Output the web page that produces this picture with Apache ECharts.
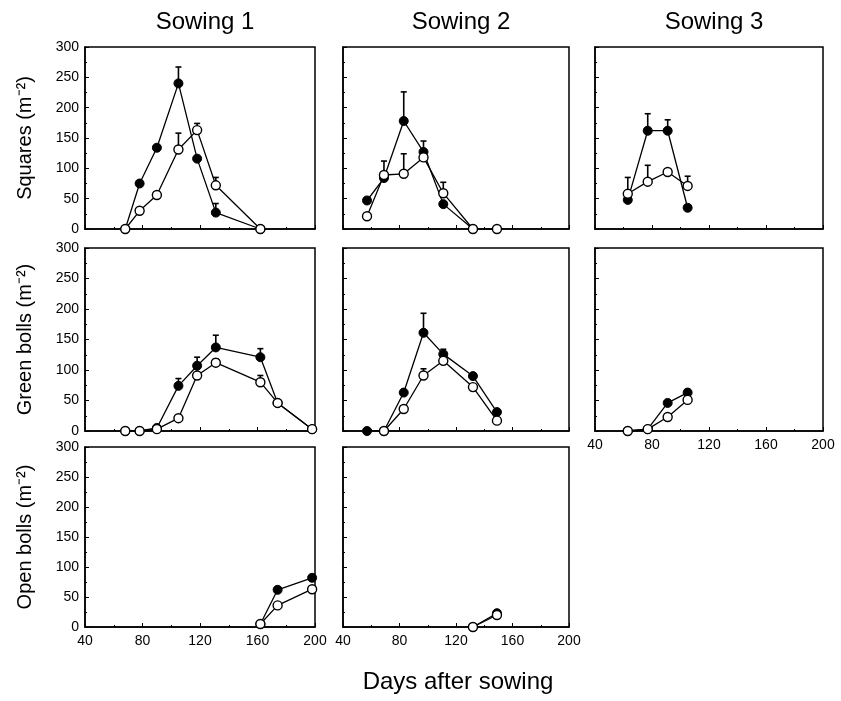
<!DOCTYPE html>
<html>
<head>
<meta charset="utf-8">
<script src="https://cdn.jsdelivr.net/npm/echarts@6/dist/echarts.min.js"></script>
<style>
  html, body { margin: 0; padding: 0; background: #fff; }
  #main { width: 841px; height: 701px; }
</style>
</head>
<body>
<div id="main"></div>
<script>
// sampling days (days after sowing)
var s1Days = [68, 78, 90, 105, 118, 131, 162, 174, 198];
var s2Days = [57, 69, 83, 97, 111, 132, 149];
var s3Days = [63, 77, 91, 105];
var ob1Days = [162, 174, 198];
var ob2Days = [132, 149];

// squares (m-2)
var sq1Filled = [0, 75, 134, 240, 116, 27, 0];
var sq1Open = [0, 30, 56, 131, 163, 72, 0];
var sq1FilledErr = [null, null, null, 27, null, 15, null];
var sq1OpenErr = [null, null, null, 27, 11, 13, null];

var sq2Filled = [47, 84, 178, 127, 41, 0, null];
var sq2Open = [21, 89, 91, 118, 59, 0, 0];
var sq2FilledErr = [null, null, 48, 18, null, null, null];
var sq2OpenErr = [null, 23, 33, null, 18, null, null];

var sq3Filled = [48, 162, 162, 35];
var sq3Open = [58, 78, 94, 71];
var sq3FilledErr = [null, 28, 18, null];
var sq3OpenErr = [27, 27, null, 16];

// green bolls (m-2)
var gb1Filled = [0, 0, 5, 74, 107, 137, 121, 46, 3];
var gb1Open = [0, 0, 3, 21, 91, 112, 80, 46, 3];
var gb1FilledErr = [null, null, null, 12, 14, 20, 14, null, null];
var gb1OpenErr = [null, null, null, null, null, 6, 11, null, null];

var gb2Filled = [0, 0, 63, 161, 126, 90, 31];
var gb2Open = [null, 0, 36, 91, 115, 72, 17];
var gb2FilledErr = [null, null, null, 32, 8, null, null];
var gb2OpenErr = [null, null, null, 11, null, null, null];

var gb3Filled = [0, 3, 46, 63];
var gb3Open = [0, 3, 23, 51];
var gb3FilledErr = [null, null, null, 5];
var gb3OpenErr = [null, null, null, null];

// open bolls (m-2)
var ob1Filled = [5, 62, 82];
var ob1Open = [5, 36, 63];
var ob2Filled = [0, 23];
var ob2Open = [0, 20];

var xTicks = [40, 80, 120, 160, 200];
var yTicks = [0, 50, 100, 150, 200, 250, 300];
var sowingTitles = ['Sowing 1', 'Sowing 2', 'Sowing 3'];
var rowNames = ['Squares (m\u207B\u00B2)', 'Green bolls (m\u207B\u00B2)', 'Open bolls (m\u207B\u00B2)'];

var panels = [
  { col: 0, row: 0, days: s1Days, f: sq1Filled, o: sq1Open, fe: sq1FilledErr, oe: sq1OpenErr },
  { col: 1, row: 0, days: s2Days, f: sq2Filled, o: sq2Open, fe: sq2FilledErr, oe: sq2OpenErr },
  { col: 2, row: 0, days: s3Days, f: sq3Filled, o: sq3Open, fe: sq3FilledErr, oe: sq3OpenErr },
  { col: 0, row: 1, days: s1Days, f: gb1Filled, o: gb1Open, fe: gb1FilledErr, oe: gb1OpenErr },
  { col: 1, row: 1, days: s2Days, f: gb2Filled, o: gb2Open, fe: gb2FilledErr, oe: gb2OpenErr },
  { col: 2, row: 1, days: s3Days, f: gb3Filled, o: gb3Open, fe: gb3FilledErr, oe: gb3OpenErr, xLabels: true },
  { col: 0, row: 2, days: ob1Days, f: ob1Filled, o: ob1Open, xLabels: true },
  { col: 1, row: 2, days: ob2Days, f: ob2Filled, o: ob2Open, xLabels: true }
];

var colLeft = [85, 343, 595];
var colWidth = [230, 226, 228];
var rowTop = [47, 248, 447];
var rowHeight = [182, 183, 180];
var FONT = 'Liberation Sans, Arial, Helvetica, sans-serif';

function pts(days, vals) {
  var out = [];
  if (!vals) return out;
  for (var i = 0; i < vals.length; i++) {
    if (vals[i] != null) out.push([days[i], vals[i]]);
  }
  return out;
}

function errPts(days, vals, errs) {
  var out = [];
  if (!errs) return out;
  for (var i = 0; i < errs.length; i++) {
    if (errs[i] != null && vals[i] != null) out.push([days[i], vals[i], errs[i]]);
  }
  return out;
}

function renderErr(params, api) {
  var x = api.value(0), y = api.value(1), e = api.value(2);
  var p0 = api.coord([x, y]);
  var p1 = api.coord([x, y + e]);
  var st = { stroke: '#000', lineWidth: 1.6 };
  return {
    type: 'group',
    children: [
      { type: 'line', shape: { x1: p0[0], y1: p0[1], x2: p1[0], y2: p1[1] }, style: st },
      { type: 'line', shape: { x1: p1[0] - 3, y1: p1[1], x2: p1[0] + 3, y2: p1[1] }, style: st }
    ]
  };
}

var grids = [], xAxes = [], yAxes = [], series = [];
panels.forEach(function (p, i) {
  grids.push({
    left: colLeft[p.col], top: rowTop[p.row],
    width: colWidth[p.col], height: rowHeight[p.row],
    show: true, borderColor: '#000', borderWidth: 1.5, backgroundColor: 'transparent'
  });
  xAxes.push({
    gridIndex: i, type: 'value', min: xTicks[0], max: xTicks[xTicks.length - 1], interval: 40,
    axisLine: { show: true, lineStyle: { color: '#000', width: 1.5 } },
    axisTick: { show: true, inside: true, length: 4, lineStyle: { color: '#000' } },
    minorTick: { show: true, splitNumber: 2, length: 2, lineStyle: { color: '#000' } },
    splitLine: { show: false },
    axisLabel: {
      show: !!p.xLabels, color: '#000', fontSize: 14, fontFamily: FONT, margin: 7,
      showMinLabel: true, showMaxLabel: true
    }
  });
  yAxes.push({
    gridIndex: i, type: 'value', min: yTicks[0], max: yTicks[yTicks.length - 1], interval: 50,
    axisLine: { show: true, lineStyle: { color: '#000', width: 1.5 } },
    axisTick: { show: true, inside: true, length: 4, lineStyle: { color: '#000' } },
    minorTick: { show: true, splitNumber: 2, length: 2, lineStyle: { color: '#000' } },
    splitLine: { show: false },
    axisLabel: { show: p.col === 0, color: '#000', fontSize: 14, fontFamily: FONT, margin: 6 },
    name: p.col === 0 ? rowNames[p.row] : '',
    nameLocation: 'middle', nameGap: 50, nameRotate: 90,
    nameTextStyle: { color: '#000', fontSize: 20, fontFamily: FONT }
  });

  series.push({
    type: 'custom', xAxisIndex: i, yAxisIndex: i, z: 1,
    renderItem: renderErr, data: errPts(p.days, p.f, p.fe)
  });
  series.push({
    type: 'custom', xAxisIndex: i, yAxisIndex: i, z: 1,
    renderItem: renderErr, data: errPts(p.days, p.o, p.oe)
  });
  series.push({
    type: 'line', xAxisIndex: i, yAxisIndex: i, z: 2,
    data: pts(p.days, p.f), symbol: 'circle', symbolSize: 9,
    lineStyle: { color: '#000', width: 1.3 },
    itemStyle: { color: '#000', borderColor: '#000', borderWidth: 1 }
  });
  series.push({
    type: 'line', xAxisIndex: i, yAxisIndex: i, z: 3,
    data: pts(p.days, p.o), symbol: 'circle', symbolSize: 9,
    lineStyle: { color: '#000', width: 1.3 },
    itemStyle: { color: '#fff', borderColor: '#000', borderWidth: 1.4 }
  });
});

var titles = sowingTitles.map(function (t, c) {
  return {
    text: t, left: colLeft[c] + colWidth[c] / 2, top: 5, textAlign: 'center',
    textStyle: { color: '#000', fontSize: 24, fontWeight: 'normal', fontFamily: FONT }
  };
});

var chart = echarts.init(document.getElementById('main'), null, { renderer: 'canvas' });
chart.setOption({
  animation: false,
  backgroundColor: '#fff',
  title: titles,
  grid: grids,
  xAxis: xAxes,
  yAxis: yAxes,
  series: series,
  graphic: [{
    type: 'text', x: 458, y: 670,
    style: { text: 'Days after sowing', fill: '#000', fontSize: 24, fontFamily: FONT, textAlign: 'center' }
  }]
});
</script>
</body>
</html>
